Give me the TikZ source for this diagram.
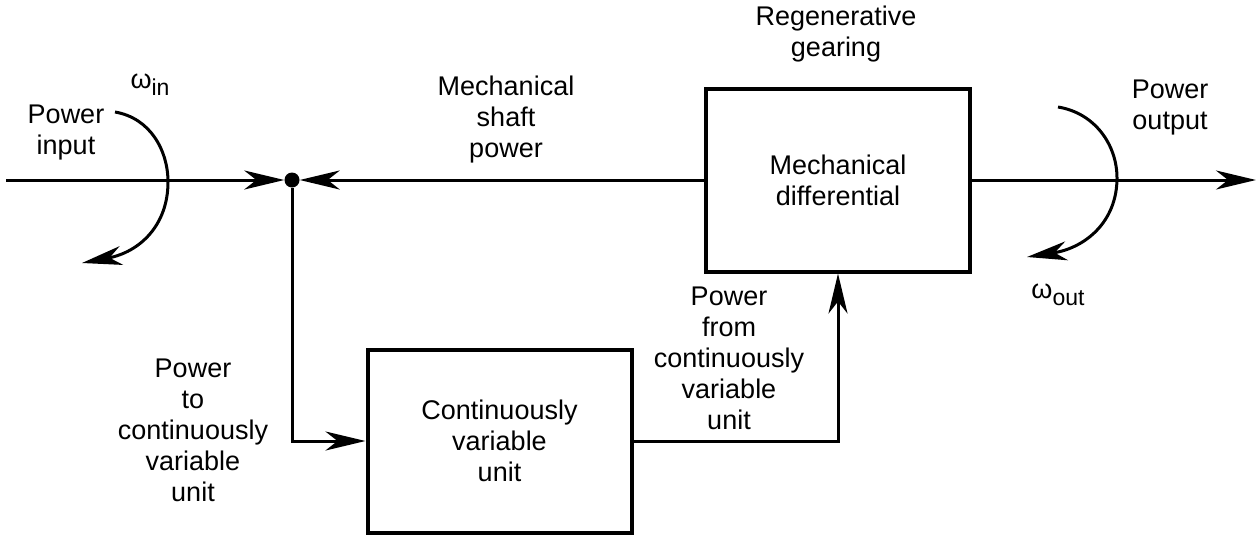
\documentclass[tikz,border=0pt]{standalone}
\usepackage{fontspec}
\setmainfont{Liberation Sans}
\usetikzlibrary{arrows.meta}
\newcommand{\subtxt}[1]{\raisebox{-0.5ex}{\fontsize{23}{23}\selectfont #1}}
\begin{document}
\begin{tikzpicture}[x=1pt,y=-1pt,
  font=\fontsize{27}{31}\selectfont,
  box/.style={draw, line width=4pt, minimum width=264pt, minimum height=183pt, align=center, inner sep=0pt},
  conn/.style={line width=3pt},
  tipstyle/.style={-{Stealth[length=40pt,width=19pt,inset=12pt]}},
  arr/.style={conn, tipstyle},
  lbl/.style={align=center, inner sep=0pt}]
\useasboundingbox (0,0) rectangle (1257,536);

% boxes
\node[box] (diff) at (838,180) {Mechanical\\differential};
\node[box] (cvu) at (499.5,441) {Continuously\\variable\\unit};
\node[circle, fill, inner sep=0pt, minimum size=15pt] (dot) at (292,180) {};

% free ends
\coordinate (in) at (6,180);
\coordinate (out) at (1256,180);
\coordinate (cinS) at (115,112);
\coordinate (cinE) at (82,263);
\coordinate (coutS) at (1058,107);
\coordinate (coutE) at (1027,257);

% connectors
\draw[arr] (in) -- (dot);
\draw[arr] (diff.west) -- (dot);
\draw[arr] (dot.south) |- (cvu.west);
\draw[arr] (cvu.east) -| (diff.south);
\draw[arr] (diff.east) -- (out);

% rotation arrows
\draw[arr] (cinS) .. controls (150,118) and (168,150) .. (168,182)
  .. controls (168,225) and (140,252) .. (cinE);
\draw[arr] (coutS) .. controls (1095,113) and (1117,145) .. (1117,178)
  .. controls (1117,222) and (1085,248) .. (coutE);

% labels
\node[lbl] (win) at (150,85) {ω\subtxt{in}};
\node[lbl] (pin) at (66,133) {Power\\input};
\node[lbl] (msp) at (506,120) {Mechanical\\shaft\\power};
\node[lbl] (rg) at (836,34) {Regenerative\\gearing};
\node[lbl] (pout) at (1170,108) {Power\\output};
\node[lbl] (wout) at (1058,295) {ω\subtxt{out}};
\node[lbl] (ptc) at (193,430) {Power\\to\\continuously\\variable\\unit};
\node[lbl] (pfc) at (729,358) {Power\\from\\continuously\\variable\\unit};
\end{tikzpicture}
\end{document}
